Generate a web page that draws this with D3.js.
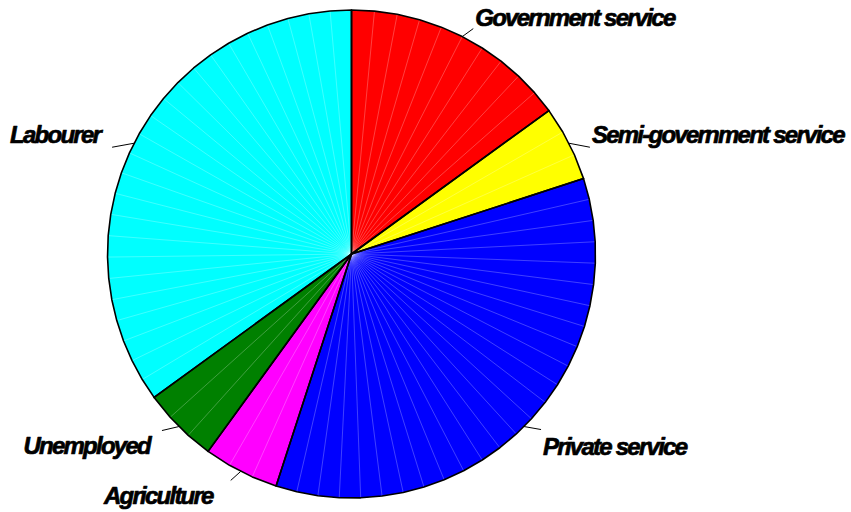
<!DOCTYPE html>
<html><head><meta charset="utf-8">
<script src="https://cdn.jsdelivr.net/npm/d3@7"></script>
<style>
html,body{margin:0;padding:0;background:#fff;}
svg{display:block;}
text{font-family:"Liberation Sans",Arial,sans-serif;font-weight:bold;font-style:italic;}
</style></head>
<body>
<svg id="chart" width="851" height="512"></svg>
<script>
// ---- data ----
const categories = ["Government service","Semi-government service","Private service","Agriculture","Unemployed","Labourer"];
const values = [15, 5, 35, 5, 5, 35];
const colors = ["#FF0000","#FFFF00","#0000FF","#FF00FF","#008000","#00FFFF"];

// ---- layout ----
const W = 851, H = 512;
const cx = 351.5, cy = 254, R = 244;
const segDeg = 5; // facet size target
// leader line end offsets (from edge point) and label offsets (from line end)
const leader = [[11,-8],[21,4],[17,3],[-10,9],[-17,4],[-22,4]];
const labelOff = [[2,-3,"start"],[2,-4,"start"],[2,25,"start"],[-18,24,"end"],[-12,23,"end"],[-12,-4,"end"]];

const svg = d3.select("#chart");
const g = svg.append("g").attr("transform", `translate(${cx},${cy})`);

const pie = d3.pie().sort(null).startAngle(0).endAngle(2*Math.PI);
const arcs = pie(values);

function pt(a, r){ return [r*Math.sin(a), -r*Math.cos(a)]; }

arcs.forEach((a, i) => {
  const span = a.endAngle - a.startAngle;
  const n = Math.max(1, Math.floor((span*180/Math.PI)/segDeg + 1e-6));
  const angs = d3.range(n+1).map(k => a.startAngle + span*k/n);
  const poly = [[0,0]].concat(angs.map(t => pt(t, R)));
  g.append("path")
    .attr("d", d3.line()(poly) + "Z")
    .attr("fill", colors[i])
    .attr("stroke", "none");
  // internal white segment lines
  angs.slice(1, -1).forEach(t => {
    const p = pt(t, R);
    g.append("line").attr("x1",0).attr("y1",0).attr("x2",p[0]).attr("y2",p[1])
      .attr("stroke","#fff").attr("stroke-width",0.5).attr("stroke-opacity",0.5);
  });
  a._poly = poly;
});
// outlines on top
arcs.forEach((a, i) => {
  g.append("path")
    .attr("d", d3.line()(a._poly) + "Z")
    .attr("fill", "none")
    .attr("stroke", "#000")
    .attr("stroke-width", 1.6)
    .attr("stroke-linejoin","round");
});

// labels
arcs.forEach((a, i) => {
  const mid = (a.startAngle + a.endAngle)/2;
  const e = pt(mid, R);
  const x0 = cx + e[0], y0 = cy + e[1];
  const x1 = x0 + leader[i][0], y1 = y0 + leader[i][1];
  svg.append("line").attr("x1",x0).attr("y1",y0).attr("x2",x1).attr("y2",y1)
    .attr("stroke","#000").attr("stroke-width",1);
  svg.append("text")
    .attr("x", x1 + labelOff[i][0]).attr("y", y1 + labelOff[i][1])
    .attr("text-anchor", labelOff[i][2])
    .attr("font-size", 24)
    .attr("letter-spacing", "-1.75px")
    .attr("fill","#000")
    .attr("stroke","#000")
    .attr("stroke-width",0.7)
    .attr("stroke-linejoin","round")
    .text(categories[i]);
});
</script>
</body></html>
